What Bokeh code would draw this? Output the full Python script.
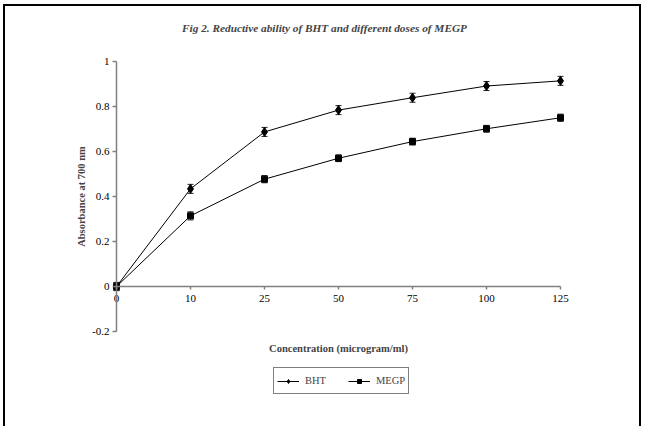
from bokeh.plotting import figure
from bokeh.models import (ColumnDataSource, Whisker, TeeHead, FixedTicker, LinearAxis,
                          NumeralTickFormatter, Range1d, Legend, LegendItem, Label)
from bokeh.embed import file_html
from bokeh.resources import INLINE

# ---- data ----
concentrations = ["0", "10", "25", "50", "75", "100", "125"]
bht = [0.0, 0.434, 0.687, 0.784, 0.839, 0.891, 0.914]
megp = [0.0, 0.314, 0.477, 0.570, 0.644, 0.701, 0.750]
bht_err = [0.018, 0.02, 0.02, 0.02, 0.02, 0.02, 0.02]
megp_err = [0.018, 0.018, 0.016, 0.015, 0.015, 0.015, 0.016]
y_ticks = [-0.2, 0, 0.2, 0.4, 0.6, 0.8, 1.0]

title_text = "Fig 2. Reductive ability of BHT and different doses of MEGP"
x_label = "Concentration (microgram/ml)"
y_label = "Absorbance at 700 nm"

x = list(range(len(concentrations)))

src_b = ColumnDataSource(dict(x=x, y=bht,
                              lo=[v - e for v, e in zip(bht, bht_err)],
                              hi=[v + e for v, e in zip(bht, bht_err)]))
src_m = ColumnDataSource(dict(x=x, y=megp,
                              lo=[v - e for v, e in zip(megp, megp_err)],
                              hi=[v + e for v, e in zip(megp, megp_err)]))

FONT = "Liberation Serif"
AX = "#808080"

# ---- layout (canvas pixels) ----
W, H = 638, 422                 # canvas size (inside the CSS border)
AX_LEFT, AX_RIGHT = 111, 555    # pixel positions of first / last category
AX_TOP, AX_BOTTOM = 55, 325     # pixel positions of y max / y min
nx = len(concentrations) - 1
ppx = (AX_RIGHT - AX_LEFT) / nx
ppy = (AX_BOTTOM - AX_TOP) / (y_ticks[-1] - y_ticks[0])
x_start = 0 - AX_LEFT / ppx
x_end = nx + (W - AX_RIGHT) / ppx
y_end = y_ticks[-1] + AX_TOP / ppy
y_start = y_ticks[0] - (H - AX_BOTTOM) / ppy

p = figure(width=W, height=H, output_backend="svg", toolbar_location=None,
           title=None, x_axis_location=None, y_axis_location=None,
           x_range=Range1d(x_start, x_end), y_range=Range1d(y_start, y_end),
           min_border=0)
p.styles = {"border-left": "2px solid black", "border-top": "2px solid black",
            "border-right": "2px solid black", "margin-left": "3px", "margin-top": "4px"}

p.grid.visible = False
p.outline_line_color = None
p.background_fill_color = "white"
p.border_fill_color = "white"

# x axis (crosses at y = 0)
xa = LinearAxis(fixed_location=0, bounds=(0, nx))
xa.ticker = FixedTicker(ticks=x)
xa.major_label_overrides = {i: c for i, c in zip(x, concentrations)}
xa.axis_line_color = AX
xa.axis_line_width = 1.5
xa.major_tick_line_color = AX
xa.major_tick_line_width = 1.5
xa.major_tick_in = 0
xa.major_tick_out = 3
xa.minor_tick_line_color = None
xa.major_label_text_font = FONT
xa.major_label_text_font_size = "11px"
xa.major_label_text_color = "black"
xa.major_label_standoff = 5
xa.axis_label = x_label
xa.axis_label_text_font = FONT
xa.axis_label_text_font_style = "bold"
xa.axis_label_text_font_size = "10.5px"
xa.axis_label_standoff = 38
p.add_layout(xa, "below")

# y axis (at x = first category)
ya = LinearAxis(fixed_location=0, bounds=(y_ticks[0], y_ticks[-1]))
ya.ticker = FixedTicker(ticks=y_ticks)
ya.formatter = NumeralTickFormatter(format="0.[0]")
ya.axis_line_color = AX
ya.axis_line_width = 1.5
ya.major_tick_line_color = AX
ya.major_tick_line_width = 1.5
ya.major_tick_in = 0
ya.major_tick_out = 4
ya.minor_tick_line_color = None
ya.major_label_text_font = FONT
ya.major_label_text_font_size = "11px"
ya.major_label_text_color = "black"
ya.major_label_standoff = 3
ya.axis_label = y_label
ya.axis_label_text_font = FONT
ya.axis_label_text_font_style = "bold"
ya.axis_label_text_font_size = "10.5px"
ya.axis_label_standoff = 2
p.add_layout(ya, "left")

# title
p.add_layout(Label(x=0 + (319 - AX_LEFT) / ppx, y=y_ticks[-1] + (AX_TOP - 21) / ppy,
                   text=title_text, text_align="center", text_baseline="middle",
                   text_font=FONT, text_font_style="bold italic", text_font_size="11.3px"))

# error bars
for src in (src_b, src_m):
    w = Whisker(source=src, base="x", upper="hi", lower="lo", dimension="height",
                line_color="#222222", line_width=1,
                upper_head=TeeHead(size=6, line_color="#222222", line_width=1),
                lower_head=TeeHead(size=6, line_color="#222222", line_width=1))
    p.add_layout(w)

lb = p.line("x", "y", source=src_b, line_color="black", line_width=1)
mb = p.scatter("x", "y", source=src_b, marker="diamond", size=9, color="black")
lm = p.line("x", "y", source=src_m, line_color="black", line_width=1)
mm = p.scatter("x", "y", source=src_m, marker="square", size=6, color="black")

legend = Legend(items=[LegendItem(label="BHT", renderers=[lb, mb]),
                       LegendItem(label="MEGP", renderers=[lm, mm])],
                orientation="horizontal", location=(268, 34),
                label_text_font=FONT, label_text_font_size="10.5px",
                border_line_color="black", border_line_width=1,
                background_fill_color="white", background_fill_alpha=1,
                glyph_width=22, glyph_height=10, label_standoff=6, spacing=22,
                label_height=19, padding=3, margin=0)
p.add_layout(legend, "center")

open("out.html", "w").write(file_html(p, INLINE))
